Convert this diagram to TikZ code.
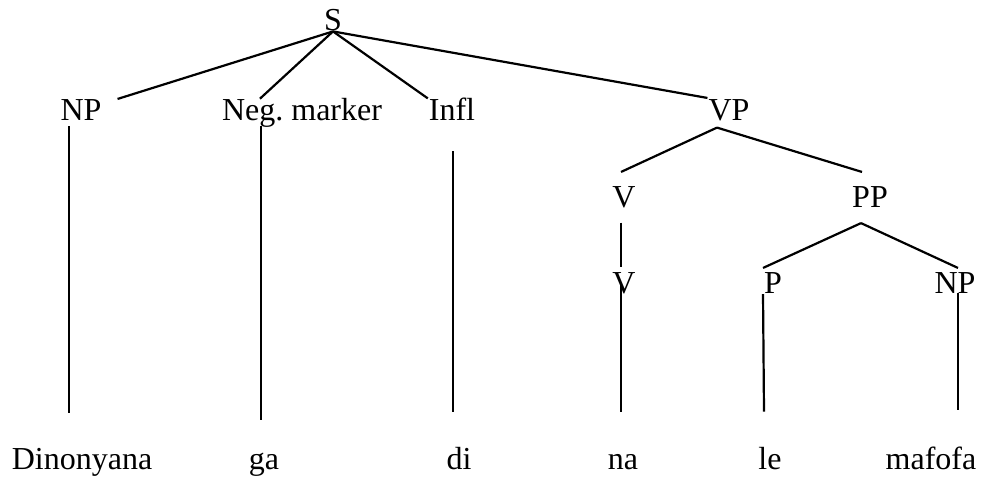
\documentclass[tikz,border=0pt]{standalone}
\usepackage{fontspec}
\setmainfont{Liberation Serif}
\usetikzlibrary{calc}
\begin{document}
\begin{tikzpicture}[x=0.5pt,y=-0.5pt,line width=1.1pt,
    every node/.style={anchor=base,inner sep=0pt,font=\fontsize{16}{19}\selectfont}]
      \useasboundingbox (0,0) rectangle (984,479);
      \draw
        (333,30) node (s){S}
        (81,120) node (np){NP}
        (302,120) node (neg){Neg.\ marker}
        (452,120) node (infl){Infl}
        (729,120) node (vp){VP}
        (624,207) node (v){V}
        (870,207) node (pp){PP}
        (624,293) node (v2){V}
        (773,293) node (p){P}
        (955,293) node (np2){NP}
        (82,469) node (dinonyana){Dinonyana}
        (264,469) node (ga){ga}
        (459,469) node (di){di}
        (623,469) node (na){na}
        (770,469) node (le){le}
        (931,469) node (mafofa){mafofa};
      \begin{scope}[-]
        \draw (s.south) to ($(np.north east)+(15,1)$);
        \draw (s.south) to ($(neg.north west)+(39,2)$);
        \draw (s.south) to ($(infl.north west)+(0,2)$);
        \draw (s.south) to (vp.north west);
        \draw ($(np.south)+(-12,5)$) to ($(dinonyana.north)+(-13,-34)$);
        \draw ($(neg.south)+(-41,-2)$) to ($(ga.north)+(-3,-31)$);
        \draw ($(infl.south)+(1,30)$) to ($(di.north)+(-6,-34)$);
        \draw ($(vp.south)+(-12,6)$) to ($(v.north)+(-3,-13)$);
        \draw ($(vp.south)+(-12,6)$) to ($(pp.north)+(-8,-13)$);
        \draw ($(v.south)+(-3,14)$) to ($(v2.north)+(-3,-4)$);
        \draw ($(v2.south)+(-3,-10)$) to ($(na.north)+(-2,-41)$);
        \draw ($(pp.south)+(-9,15)$) to ($(p.north west)+(0,-3)$);
        \draw ($(pp.south)+(-9,15)$) to ($(np2.north)+(3,-3)$);
        \draw (p.south west) to ($(le.north)+(-6,-34)$);
        \draw ($(np2.south)+(3,-1)$) to ($(mafofa.north)+(27,-35)$);
      \end{scope}
\end{tikzpicture}
\end{document}
